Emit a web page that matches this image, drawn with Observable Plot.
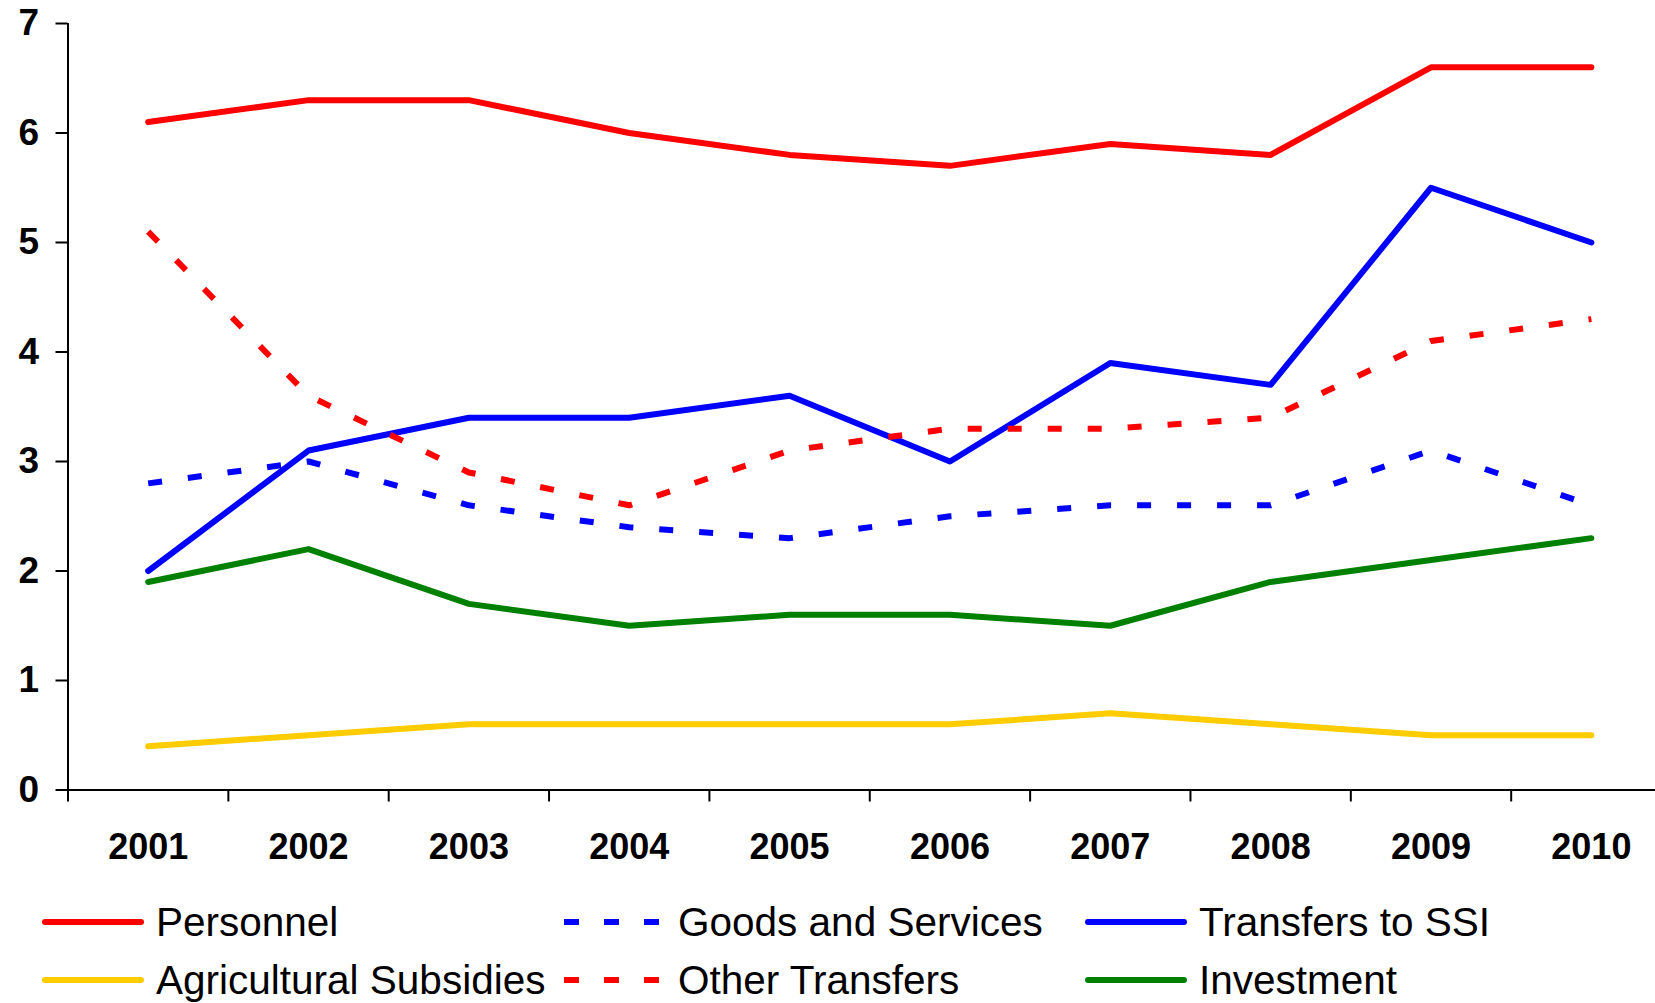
<!DOCTYPE html>
<html>
<head>
<meta charset="utf-8">
<script src="https://cdn.jsdelivr.net/npm/d3@7"></script>
<script src="https://cdn.jsdelivr.net/npm/@observablehq/plot@0.6"></script>
<style>
  html, body { margin: 0; padding: 0; background: #fff; }
  #wrap { width: 1655px; height: 1003px; overflow: hidden; position: relative; font-family: "Liberation Sans", Arial, sans-serif; }
  #legend { position: absolute; left: 0; top: 893px; width: 1655px; }
  .row { display: flex; height: 58px; align-items: center; }
  .item { display: flex; align-items: center; box-sizing: border-box; }
  .item svg { flex: none; margin-right: 12px; }
  .item span { font-size: 40.5px; color: #000; white-space: nowrap; }
</style>
</head>
<body>
<div id="wrap">
  <div id="chart"></div>
  <div id="legend"></div>
</div>
<script>
const years = [2001, 2002, 2003, 2004, 2005, 2006, 2007, 2008, 2009, 2010];
const yTicks = [0, 1, 2, 3, 4, 5, 6, 7];
const seriesNames = ["Personnel", "Goods and Services", "Transfers to SSI", "Agricultural Subsidies", "Other Transfers", "Investment"];
const personnel = [6.1, 6.3, 6.3, 6.0, 5.8, 5.7, 5.9, 5.8, 6.6, 6.6];
const goodsServices = [2.8, 3.0, 2.6, 2.4, 2.3, 2.5, 2.6, 2.6, 3.1, 2.6];
const transfersSSI = [2.0, 3.1, 3.4, 3.4, 3.6, 3.0, 3.9, 3.7, 5.5, 5.0];
const agricultural = [0.4, 0.5, 0.6, 0.6, 0.6, 0.6, 0.7, 0.6, 0.5, 0.5];
const otherTransfers = [5.1, 3.6, 2.9, 2.6, 3.1, 3.3, 3.3, 3.4, 4.1, 4.3];
const investment = [1.9, 2.2, 1.7, 1.5, 1.6, 1.6, 1.5, 1.9, 2.1, 2.3];

const seriesValues = [personnel, goodsServices, transfersSSI, agricultural, otherTransfers, investment];
const seriesColors = ["#FF0000", "#0000FF", "#0000FF", "#FFCC00", "#FF0000", "#008000"];
const seriesDashed = [false, true, false, false, true, false];

const boundaries = years.map(y => y - 0.5);
const dash = "14,26";

const lineMarks = seriesNames.map((name, i) => {
  const data = years.map((yr, j) => ({year: yr, value: seriesValues[i][j]}));
  return Plot.line(data, {
    x: "year", y: "value",
    stroke: seriesColors[i],
    strokeWidth: 6,
    strokeDasharray: seriesDashed[i] ? dash : null,
    strokeLinecap: seriesDashed[i] ? "butt" : "round",
    strokeLinejoin: "round"
  });
});

const chart = Plot.plot({
  width: 1655,
  height: 890,
  marginLeft: 67.5,
  marginRight: 0,
  marginTop: 23,
  marginBottom: 100.5,
  style: {fontFamily: "Liberation Sans, Arial, sans-serif", fontSize: "36px", fontWeight: "bold", color: "#000", background: "#fff"},
  x: {type: "linear", domain: [2000.5, 2010.4]},
  y: {domain: [0, 7]},
  marks: [
    Plot.axisY({ticks: yTicks, tickSize: 12, tickPadding: 17, strokeWidth: 2, label: null, tickFormat: d => String(d), fontSize: 37, fontWeight: "bold"}),
    Plot.axisX({ticks: boundaries, tickSize: 12, strokeWidth: 2, text: null, label: null}),
    Plot.axisX({ticks: years, tickSize: 0, tickPadding: 43, label: null, tickFormat: d => String(d), fontSize: 36, fontWeight: "bold"}),
    ...lineMarks,
    Plot.ruleY([0], {stroke: "#000", strokeWidth: 2}),
    Plot.ruleX([2000.5], {y1: 0, y2: 7, stroke: "#000", strokeWidth: 2})
  ]
});
document.getElementById("chart").appendChild(chart);

// Legend
const legendOrder = [[0, 1, 2], [3, 4, 5]];
const colWidths = [522, 521, 570];
const legend = document.getElementById("legend");
legendOrder.forEach(row => {
  const r = document.createElement("div");
  r.className = "row";
  r.style.paddingLeft = "42px";
  row.forEach((idx, c) => {
    const it = document.createElement("div");
    it.className = "item";
    it.style.width = colWidths[c] + "px";
    const ns = "http://www.w3.org/2000/svg";
    const sw = document.createElementNS(ns, "svg");
    sw.setAttribute("width", 102);
    sw.setAttribute("height", 12);
    const ln = document.createElementNS(ns, "line");
    ln.setAttribute("y1", 6); ln.setAttribute("y2", 6);
    ln.setAttribute("stroke", seriesColors[idx]);
    ln.setAttribute("stroke-width", 6);
    if (seriesDashed[idx]) {
      ln.setAttribute("x1", 0); ln.setAttribute("x2", 96);
      ln.setAttribute("stroke-dasharray", "15,25");
    } else {
      ln.setAttribute("x1", 3); ln.setAttribute("x2", 99);
      ln.setAttribute("stroke-linecap", "round");
    }
    sw.appendChild(ln);
    const tx = document.createElement("span");
    tx.textContent = seriesNames[idx];
    it.appendChild(sw);
    it.appendChild(tx);
    r.appendChild(it);
  });
  legend.appendChild(r);
});
</script>
</body>
</html>
